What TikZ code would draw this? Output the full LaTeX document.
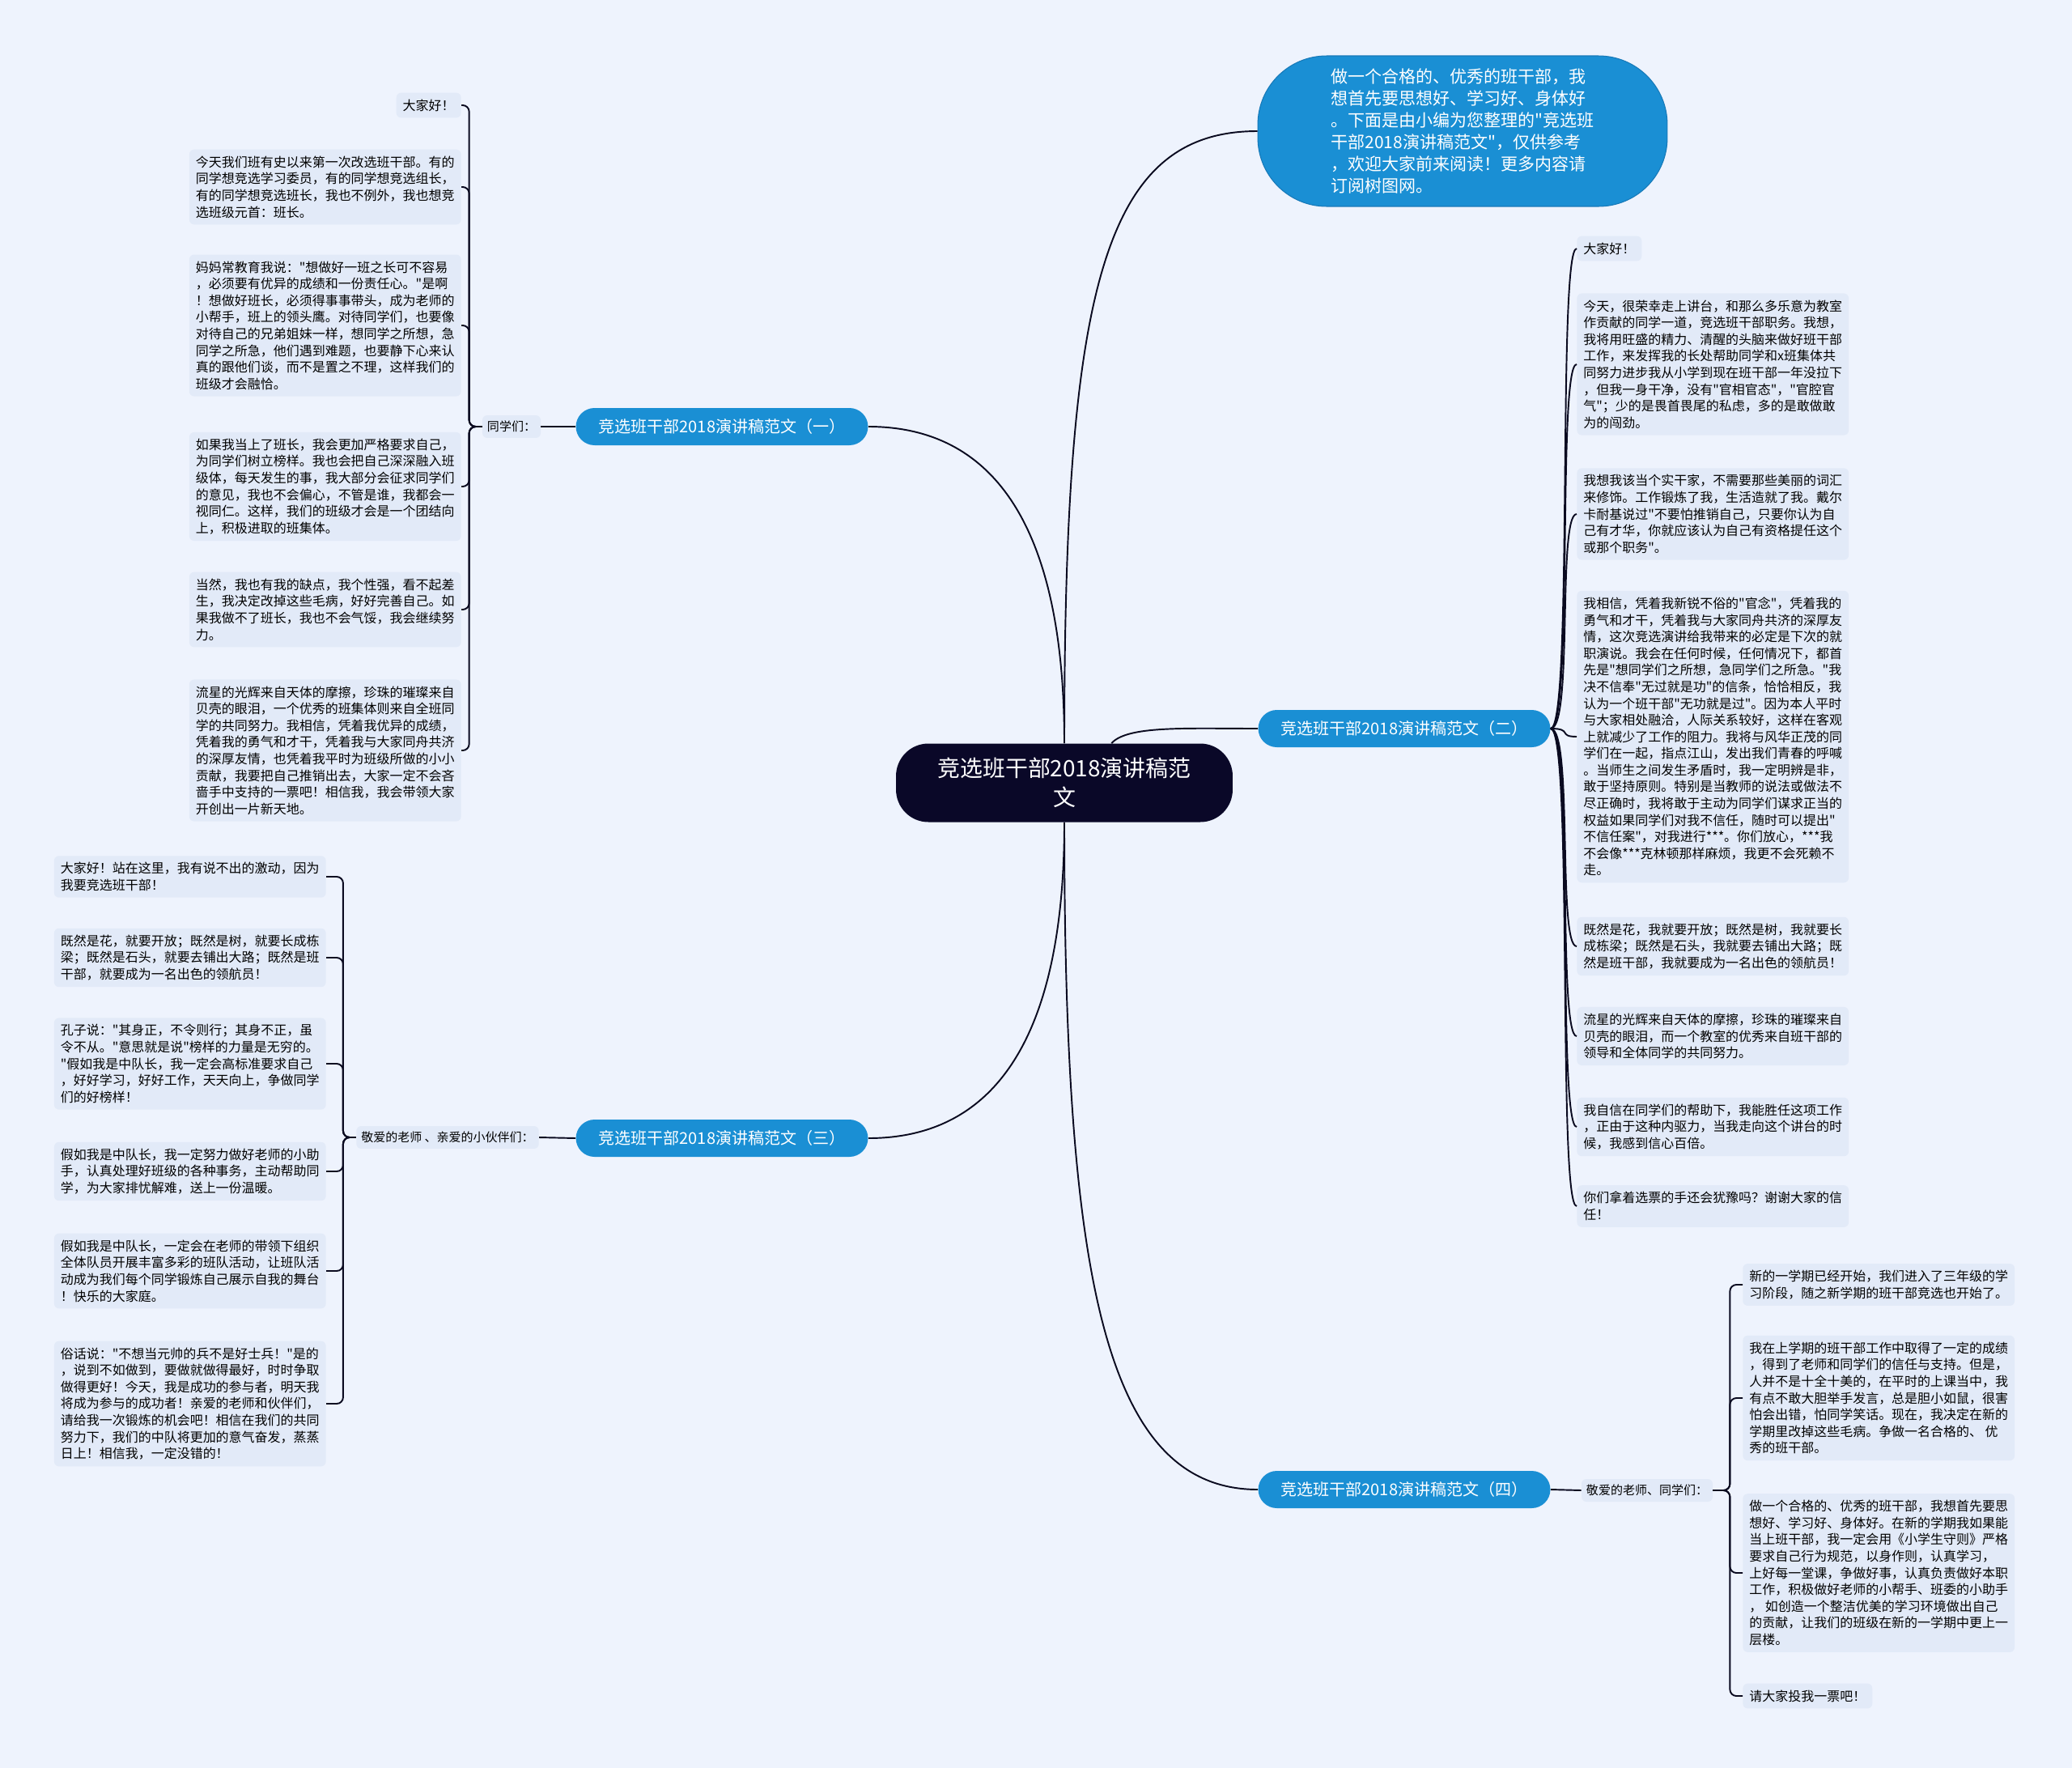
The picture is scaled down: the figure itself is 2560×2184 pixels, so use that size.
\documentclass[tikz,border=0pt]{standalone}
\usepackage{fontspec}
\newfontfamily\cjkfont{Noto Sans CJK SC}
\usetikzlibrary{positioning}
\definecolor{bgc}{HTML}{EEF3FD}
\definecolor{leafc}{HTML}{E2EAF8}
\definecolor{bluec}{HTML}{1A8FD4}
\definecolor{blueedge}{HTML}{1779B8}
\definecolor{rootc}{HTML}{0A0828}
\definecolor{linec}{HTML}{0A0A20}

\begin{document}
\begin{tikzpicture}[x=0.02cm, y=-0.02cm,
    root/.style={fill=rootc, text=white, rounded corners=0.8cm, minimum width=8.32cm, minimum height=1.94cm, align=center, font=\cjkfont\fontsize{15.9}{20.5}\selectfont},
    topic/.style={fill=bluec, text=white, rounded corners=0.46cm, minimum width=7.22cm, minimum height=0.92cm, font=\cjkfont\fontsize{11.4}{13}\selectfont},
    intro/.style={fill=bluec, draw=blueedge, line width=0.6pt, text=white, rounded corners=1.7cm, minimum width=10.12cm, minimum height=3.72cm, align=left, font=\cjkfont\fontsize{11.95}{15.36}\selectfont},
    leaf/.style={fill=leafc, rounded corners=0.12cm, inner xsep=0.16cm, inner ysep=0.16cm, align=left, font=\cjkfont\fontsize{9.1}{11.72}\selectfont},
    greet/.style={fill=leafc, rounded corners=0.12cm, inner xsep=0.12cm, inner ysep=0.14cm, font=\cjkfont\fontsize{8.54}{10}\selectfont},
    link/.style={draw=linec, line width=1.1pt},
    twig/.style={draw=linec, line width=1.1pt, rounded corners=0.16cm}
]
\useasboundingbox[fill=bgc] (0,0) rectangle (2560,2184);

% Root and main topics
\node[root] (root) at (1315,967) {竞选班干部2018演讲稿范\\文};
\node[intro] (intro) at (1807,162) {做一个合格的、优秀的班干部，我\\想首先要思想好、学习好、身体好\\。下面是由小编为您整理的"竞选班\\干部2018演讲稿范文"，仅供参考\\，欢迎大家前来阅读！更多内容请\\订阅树图网。};
\node[topic] (t1) at (892,527) {竞选班干部2018演讲稿范文（一）};
\node[topic] (t2) at (1735,900) {竞选班干部2018演讲稿范文（二）};
\node[topic] (t3) at (892,1406) {竞选班干部2018演讲稿范文（三）};
\node[topic] (t4) at (1735,1840) {竞选班干部2018演讲稿范文（四）};

% Greetings
\node[greet] (g1) at (632,527) {同学们：};
\node[greet] (g3) at (553,1405) {敬爱的老师 、亲爱的小伙伴们：};
\node[greet] (g4) at (2035,1841) {敬爱的老师、同学们：};

% Topic one
\node[leaf, anchor=east] (a1) at (570,130) {大家好！};
\node[leaf, anchor=east] (a2) at (570,231) {今天我们班有史以来第一次改选班干部。有的\\同学想竞选学习委员，有的同学想竞选组长，\\有的同学想竞选班长，我也不例外，我也想竞\\选班级元首：班长。};
\node[leaf, anchor=east] (a3) at (570,402) {妈妈常教育我说："想做好一班之长可不容易\\，必须要有优异的成绩和一份责任心。"是啊\\！想做好班长，必须得事事带头，成为老师的\\小帮手，班上的领头鹰。对待同学们，也要像\\对待自己的兄弟姐妹一样，想同学之所想，急\\同学之所急，他们遇到难题，也要静下心来认\\真的跟他们谈，而不是置之不理，这样我们的\\班级才会融恰。};
\node[leaf, anchor=east] (a4) at (570,601) {如果我当上了班长，我会更加严格要求自己，\\为同学们树立榜样。我也会把自己深深融入班\\级体，每天发生的事，我大部分会征求同学们\\的意见，我也不会偏心，不管是谁，我都会一\\视同仁。这样，我们的班级才会是一个团结向\\上，积极进取的班集体。};
\node[leaf, anchor=east] (a5) at (570,753) {当然，我也有我的缺点，我个性强，看不起差\\生，我决定改掉这些毛病，好好完善自己。如\\果我做不了班长，我也不会气馁，我会继续努\\力。};
\node[leaf, anchor=east] (a6) at (570,927) {流星的光辉来自天体的摩擦，珍珠的璀璨来自\\贝壳的眼泪，一个优秀的班集体则来自全班同\\学的共同努力。我相信，凭着我优异的成绩，\\凭着我的勇气和才干，凭着我与大家同舟共济\\的深厚友情，也凭着我平时为班级所做的小小\\贡献，我要把自己推销出去，大家一定不会吝\\啬手中支持的一票吧！相信我，我会带领大家\\开创出一片新天地。};

% Topic two
\node[leaf, anchor=west] (b1) at (1948,307) {大家好！};
\node[leaf, anchor=west] (b2) at (1948,450) {今天，很荣幸走上讲台，和那么多乐意为教室\\作贡献的同学一道，竞选班干部职务。我想，\\我将用旺盛的精力、清醒的头脑来做好班干部\\工作，来发挥我的长处帮助同学和x班集体共\\同努力进步我从小学到现在班干部一年没拉下\\，但我一身干净，没有"官相官态"，"官腔官\\气"；少的是畏首畏尾的私虑，多的是敢做敢\\为的闯劲。};
\node[leaf, anchor=west] (b3) at (1948,635) {我想我该当个实干家，不需要那些美丽的词汇\\来修饰。工作锻炼了我，生活造就了我。戴尔\\卡耐基说过"不要怕推销自己，只要你认为自\\己有才华，你就应该认为自己有资格提任这个\\或那个职务"。};
\node[leaf, anchor=west] (b4) at (1948,910) {我相信，凭着我新锐不俗的"官念"，凭着我的\\勇气和才干，凭着我与大家同舟共济的深厚友\\情，这次竞选演讲给我带来的必定是下次的就\\职演说。我会在任何时候，任何情况下，都首\\先是"想同学们之所想，急同学们之所急。"我\\决不信奉"无过就是功"的信条，恰恰相反，我\\认为一个班干部"无功就是过"。因为本人平时\\与大家相处融洽，人际关系较好，这样在客观\\上就减少了工作的阻力。我将与风华正茂的同\\学们在一起，指点江山，发出我们青春的呼喊\\。当师生之间发生矛盾时，我一定明辨是非，\\敢于坚持原则。特别是当教师的说法或做法不\\尽正确时，我将敢于主动为同学们谋求正当的\\权益如果同学们对我不信任，随时可以提出"\\不信任案"，对我进行***。你们放心，***我\\不会像***克林顿那样麻烦，我更不会死赖不\\走。};
\node[leaf, anchor=west] (b5) at (1948,1169) {既然是花，我就要开放；既然是树，我就要长\\成栋梁；既然是石头，我就要去铺出大路；既\\然是班干部，我就要成为一名出色的领航员！};
\node[leaf, anchor=west] (b6) at (1948,1280) {流星的光辉来自天体的摩擦，珍珠的璀璨来自\\贝壳的眼泪，而一个教室的优秀来自班干部的\\领导和全体同学的共同努力。};
\node[leaf, anchor=west] (b7) at (1948,1392) {我自信在同学们的帮助下，我能胜任这项工作\\，正由于这种内驱力，当我走向这个讲台的时\\候，我感到信心百倍。};
\node[leaf, anchor=west] (b8) at (1948,1490) {你们拿着选票的手还会犹豫吗？谢谢大家的信\\任！};

% Topic three
\node[leaf, anchor=east] (c1) at (403,1083) {大家好！站在这里，我有说不出的激动，因为\\我要竞选班干部！};
\node[leaf, anchor=east] (c2) at (403,1183) {既然是花，就要开放；既然是树，就要长成栋\\梁；既然是石头，就要去铺出大路；既然是班\\干部，就要成为一名出色的领航员！};
\node[leaf, anchor=east] (c3) at (403,1314) {孔子说："其身正，不令则行；其身不正，虽\\令不从。"意思就是说"榜样的力量是无穷的。\\"假如我是中队长，我一定会高标准要求自己\\，好好学习，好好工作，天天向上，争做同学\\们的好榜样！};
\node[leaf, anchor=east] (c4) at (403,1447) {假如我是中队长，我一定努力做好老师的小助\\手，认真处理好班级的各种事务，主动帮助同\\学，为大家排忧解难，送上一份温暖。};
\node[leaf, anchor=east] (c5) at (403,1570) {假如我是中队长，一定会在老师的带领下组织\\全体队员开展丰富多彩的班队活动，让班队活\\动成为我们每个同学锻炼自己展示自我的舞台\\！快乐的大家庭。};
\node[leaf, anchor=east] (c6) at (403,1734) {俗话说："不想当元帅的兵不是好士兵！"是的\\，说到不如做到，要做就做得最好，时时争取\\做得更好！今天，我是成功的参与者，明天我\\将成为参与的成功者！亲爱的老师和伙伴们，\\请给我一次锻炼的机会吧！相信在我们的共同\\努力下，我们的中队将更加的意气奋发，蒸蒸\\日上！相信我，一定没错的！};

% Topic four
\node[leaf, anchor=west] (d1) at (2153,1587) {新的一学期已经开始，我们进入了三年级的学\\习阶段，随之新学期的班干部竞选也开始了。};
\node[leaf, anchor=west] (d2) at (2153,1727) {我在上学期的班干部工作中取得了一定的成绩\\，得到了老师和同学们的信任与支持。但是，\\人并不是十全十美的，在平时的上课当中，我\\有点不敢大胆举手发言，总是胆小如鼠，很害\\怕会出错，怕同学笑话。现在，我决定在新的\\学期里改掉这些毛病。争做一名合格的、 优\\秀的班干部。};
\node[leaf, anchor=west] (d3) at (2153,1943) {做一个合格的、优秀的班干部，我想首先要思\\想好、学习好、身体好。在新的学期我如果能\\当上班干部，我一定会用《小学生守则》严格\\要求自己行为规范，以身作则，认真学习，\\上好每一堂课，争做好事，认真负责做好本职\\工作，积极做好老师的小帮手、班委的小助手\\， 如创造一个整洁优美的学习环境做出自己\\的贡献，让我们的班级在新的一学期中更上一\\层楼。};
\node[leaf, anchor=west] (d4) at (2153,2095) {请大家投我一票吧！};

% Root connectors
\draw[link] (root.north) .. controls +(0,-560) and +(-190,0) .. (intro.west);
\draw[link] (root.north) .. controls +(0,-260) and +(160,0) .. (t1.east);
\draw[link] (root.40) .. controls +(20,-22) and +(-90,0) .. (t2.west);
\draw[link] (root.south) .. controls +(0,260) and +(160,0) .. (t3.east);
\draw[link] (root.south) .. controls +(0,560) and +(-190,0) .. (t4.west);

% Greeting connectors
\draw[link] (t1.west) -- (g1.east);
\draw[link] (t3.west) -- (g3.east);
\draw[link] (t4.east) -- (g4.west);

% Leaf connectors
\foreach \i in {1,...,6} \draw[twig] (g1.west) -- ++(-16,0) |- (a\i.east);
\foreach \i in {1,...,8} \draw[link] (t2.east) .. controls +(28,0) and +(-24,0) .. (b\i.west);
\foreach \i in {1,...,6} \draw[twig] (g3.west) -- ++(-16,0) |- (c\i.east);
\foreach \i in {1,...,4} \draw[twig] (g4.east) -- ++(21,0) |- (d\i.west);

\end{tikzpicture}
\end{document}
